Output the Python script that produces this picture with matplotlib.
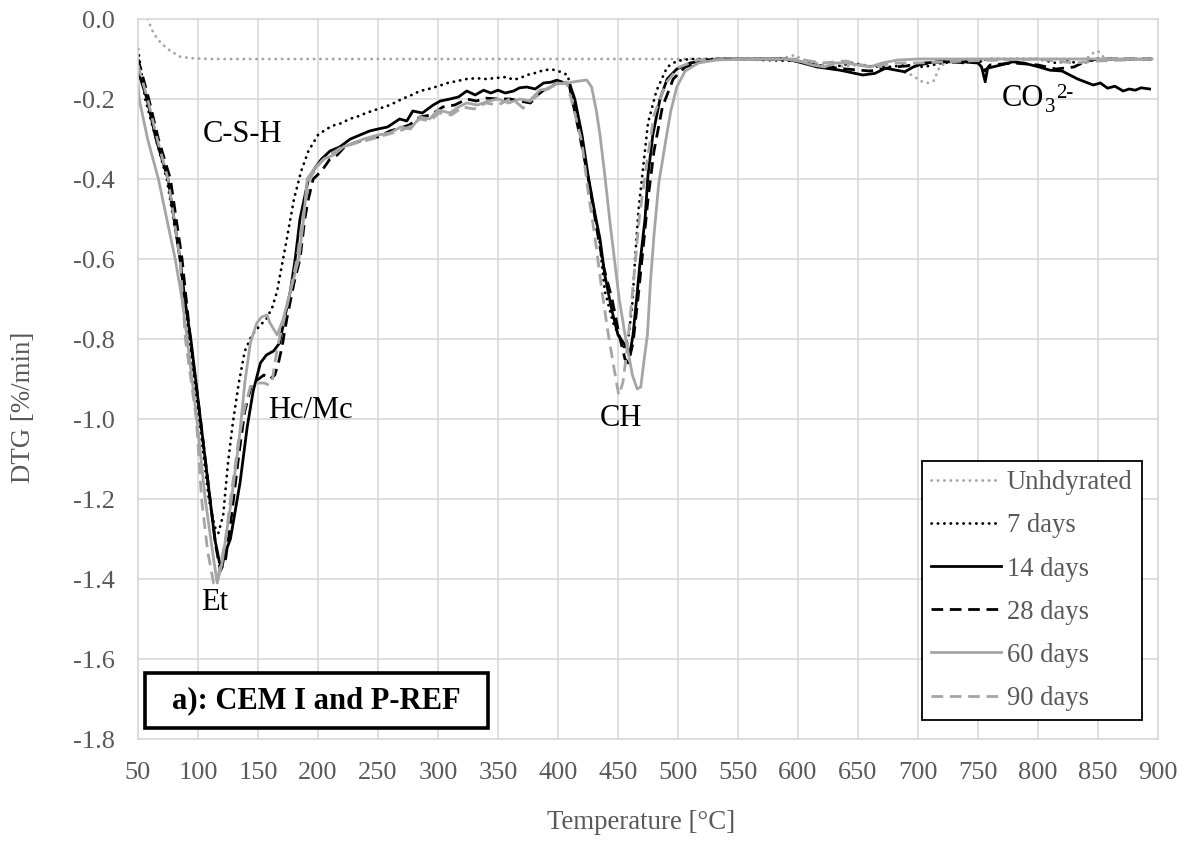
import numpy as np
import matplotlib
matplotlib.use('Agg')
import matplotlib.pyplot as plt
from matplotlib.patches import Rectangle

plt.rcParams['font.family'] = ['Liberation Serif', 'DejaVu Serif']
plt.rcParams['axes.unicode_minus'] = False

# ---- data (temperature in °C, DTG in %/min) ----
t_unhyd = [58, 63, 69, 77, 85, 94, 110, 200, 300, 400, 500, 580, 592, 597, 603, 615, 630, 650, 670,
           685, 695, 702, 708, 713, 718, 725, 740, 800, 840, 846, 850, 856, 870, 895]
dtg_unhyd = [0.0, -0.036, -0.06, -0.08, -0.094, -0.098, -0.1, -0.1, -0.1, -0.1, -0.1, -0.1, -0.095, -0.09,
             -0.1, -0.11, -0.12, -0.115, -0.12, -0.13, -0.14, -0.155, -0.16, -0.155, -0.12, -0.105, -0.1,
             -0.1, -0.1, -0.085, -0.08, -0.1, -0.1, -0.1]

t_7d = [50, 56, 65, 74, 85, 92, 101, 109, 114, 117, 121, 125, 129, 134, 139, 145, 152, 157, 162, 166,
        169, 174, 180, 186, 192, 200, 207, 214, 220, 226, 232, 240, 250, 260, 270, 278, 285, 292, 300,
        308, 316, 324, 332, 340, 350, 357, 363, 369, 374, 381, 388, 395, 402, 408, 412, 420, 427, 434,
        439, 446, 452, 455, 459, 462, 464, 467, 471, 475, 482, 491, 499, 510, 540, 600, 615, 630, 645,
        660, 675, 690, 705, 720, 740, 760, 800, 815, 825, 835, 850, 895]
dtg_7d = [-0.075, -0.2, -0.3, -0.4, -0.6, -0.8, -1.0, -1.2, -1.27, -1.285, -1.24, -1.11, -1.01, -0.91,
          -0.83, -0.79, -0.765, -0.75, -0.72, -0.68, -0.63, -0.55, -0.45, -0.38, -0.33, -0.29, -0.275,
          -0.265, -0.26, -0.25, -0.245, -0.235, -0.225, -0.215, -0.2, -0.19, -0.18, -0.175, -0.168,
          -0.16, -0.155, -0.15, -0.148, -0.15, -0.147, -0.145, -0.152, -0.147, -0.14, -0.135, -0.128,
          -0.126, -0.132, -0.14, -0.19, -0.31, -0.43, -0.54, -0.68, -0.76, -0.8, -0.82, -0.79, -0.71,
          -0.61, -0.48, -0.37, -0.26, -0.18, -0.12, -0.105, -0.1, -0.1, -0.105, -0.115, -0.12, -0.11,
          -0.118, -0.12, -0.115, -0.12, -0.11, -0.105, -0.1, -0.1, -0.11, -0.105, -0.112, -0.1, -0.1]

t_14d = [50, 57.5, 65, 75, 80, 85, 89, 94, 98, 102, 106, 110, 114, 118, 120, 122, 127, 135, 141, 146,
         152, 157, 163, 168, 172, 177, 181, 185, 192, 198, 203, 210, 218, 227, 235, 243, 250, 258, 268,
         274, 279, 287, 296, 302, 310, 317, 324, 331, 338, 344, 350, 356, 363, 368, 374, 381, 388, 394,
         399, 404, 410, 414, 420, 425, 431, 435, 439, 445, 450, 457, 460, 462.5, 465.5, 468, 472.5, 475,
         479, 485, 491, 499, 510, 532, 590, 600, 616, 635, 654, 664, 673, 689, 696, 705, 721, 737, 750,
         753, 756, 758, 769, 779, 788, 801, 810, 820, 833, 846, 852, 858, 864, 871, 876, 881, 886, 893]
dtg_14d = [-0.13, -0.2, -0.3, -0.4, -0.5, -0.6, -0.7, -0.8, -0.9, -1.0, -1.1, -1.2, -1.3, -1.36, -1.37,
           -1.34, -1.3, -1.16, -1.02, -0.93, -0.86, -0.84, -0.83, -0.81, -0.75, -0.68, -0.6, -0.5, -0.4,
           -0.37, -0.35, -0.33, -0.32, -0.3, -0.29, -0.28, -0.275, -0.27, -0.25, -0.255, -0.23, -0.235,
           -0.215, -0.205, -0.2, -0.195, -0.18, -0.19, -0.178, -0.185, -0.178, -0.185, -0.18, -0.172,
           -0.17, -0.175, -0.16, -0.158, -0.153, -0.158, -0.165, -0.2, -0.29, -0.39, -0.49, -0.55, -0.64,
           -0.73, -0.79, -0.82, -0.835, -0.79, -0.7, -0.62, -0.5, -0.39, -0.29, -0.2, -0.15, -0.125,
           -0.11, -0.1, -0.1, -0.107, -0.12, -0.128, -0.14, -0.136, -0.123, -0.132, -0.12, -0.11, -0.107,
           -0.107, -0.11, -0.12, -0.157, -0.123, -0.115, -0.107, -0.11, -0.12, -0.128, -0.13, -0.15,
           -0.165, -0.16, -0.173, -0.168, -0.18, -0.175, -0.178, -0.172, -0.175]

t_28d = [50, 59, 67, 77, 86.7, 93.6, 102, 110, 115, 118.6, 123, 128, 134, 139, 145, 150.5, 155, 160,
         164, 167, 170, 174, 180, 185, 189, 192, 196, 203, 210, 216, 222, 230, 240, 250, 260, 268, 276,
         285, 294, 304, 314, 324, 332, 340, 350, 360, 368, 377, 383, 388, 394, 399, 409, 418, 426,
         432.6, 438, 445, 451, 455.8, 458.6, 462.5, 466.6, 470.7, 475, 480, 487, 496, 506, 523, 590,
         600, 620, 640, 660, 680, 700, 720, 740, 752, 756, 760, 780, 800, 815, 830, 840, 850, 895]
dtg_28d = [-0.1, -0.2, -0.3, -0.4, -0.6, -0.8, -1.0, -1.2, -1.32, -1.38, -1.35, -1.24, -1.09, -0.98,
           -0.91, -0.9, -0.89, -0.9, -0.89, -0.86, -0.82, -0.75, -0.66, -0.6, -0.5, -0.45, -0.4, -0.38,
           -0.35, -0.34, -0.32, -0.31, -0.3, -0.295, -0.28, -0.273, -0.265, -0.245, -0.24, -0.22, -0.215,
           -0.2, -0.205, -0.198, -0.2, -0.2, -0.205, -0.21, -0.19, -0.178, -0.17, -0.16, -0.16, -0.29,
           -0.41, -0.53, -0.62, -0.7, -0.79, -0.85, -0.86, -0.81, -0.7, -0.58, -0.45, -0.33, -0.22, -0.15,
           -0.12, -0.102, -0.1, -0.105, -0.12, -0.125, -0.13, -0.12, -0.115, -0.105, -0.11, -0.105, -0.13,
           -0.115, -0.11, -0.115, -0.125, -0.12, -0.105, -0.1, -0.1]

t_60d = [50, 51, 58, 67, 74, 81, 86.7, 91, 99, 106, 113, 116, 120, 127, 134, 139, 143.6, 149, 153,
         157.5, 160, 166, 171, 177, 184, 188, 191, 198, 205, 213, 221, 230, 238, 250, 260, 269, 277,
         285, 293, 300, 310, 317, 324, 333, 342, 350, 359, 368, 376, 385, 392, 399, 406, 413, 418, 424,
         428, 432, 435, 439, 443, 447, 451, 457, 462, 466, 469, 471, 474.5, 477, 480, 484, 490, 494,
         499, 506, 517, 533, 590, 603, 612, 622, 631, 641, 650, 660, 670, 683, 700, 895]
dtg_60d = [-0.16, -0.2, -0.3, -0.4, -0.5, -0.6, -0.7, -0.8, -1.0, -1.2, -1.35, -1.41, -1.36, -1.22,
           -1.06, -0.91, -0.81, -0.76, -0.745, -0.74, -0.76, -0.79, -0.75, -0.68, -0.6, -0.5, -0.4, -0.37,
           -0.35, -0.34, -0.32, -0.31, -0.3, -0.29, -0.285, -0.27, -0.275, -0.245, -0.25, -0.2275, -0.235,
           -0.22, -0.21, -0.215, -0.205, -0.2, -0.21, -0.2, -0.205, -0.1775, -0.175, -0.16, -0.162, -0.157,
           -0.155, -0.1525, -0.17, -0.23, -0.29, -0.39, -0.5, -0.6, -0.7, -0.81, -0.89, -0.925, -0.92,
           -0.87, -0.79, -0.66, -0.54, -0.41, -0.3, -0.23, -0.17, -0.13, -0.11, -0.102, -0.1, -0.107,
           -0.115, -0.12, -0.11, -0.11, -0.115, -0.12, -0.11, -0.1025, -0.1, -0.1]

t_90d = [50, 58, 66, 75, 85, 89.5, 98.6, 103, 108, 113, 117, 123, 128, 134, 139, 143.6, 149, 155, 159,
         161.6, 164, 167, 171, 177, 182.5, 187, 193, 199, 205, 212, 220, 232, 245, 256, 268, 276, 285,
         293, 301, 311, 321, 330, 340, 350, 360, 366, 371, 375, 379, 386, 393, 400, 407, 411, 420, 425,
         431, 436.6, 442, 446.5, 450.6, 454, 457, 460, 464, 468, 474, 480, 490, 501, 517, 590, 600,
         620, 640, 660, 680, 700, 740, 800, 830, 850, 895]
dtg_90d = [-0.115, -0.2, -0.3, -0.4, -0.6, -0.8, -1.0, -1.2, -1.33, -1.41, -1.39, -1.3, -1.18, -1.05,
           -0.97, -0.92, -0.91, -0.91, -0.915, -0.91, -0.86, -0.81, -0.76, -0.68, -0.6, -0.5, -0.4, -0.37,
           -0.35, -0.335, -0.32, -0.31, -0.3, -0.29, -0.28, -0.27, -0.25, -0.255, -0.235, -0.24, -0.22,
           -0.225, -0.21, -0.215, -0.2, -0.21, -0.223, -0.21, -0.2, -0.185, -0.17, -0.165, -0.157, -0.2,
           -0.31, -0.43, -0.55, -0.68, -0.79, -0.87, -0.94, -0.91, -0.84, -0.75, -0.62, -0.49, -0.36,
           -0.24, -0.16, -0.12, -0.102, -0.1, -0.1, -0.11, -0.105, -0.12, -0.11, -0.11, -0.105, -0.1,
           -0.11, -0.105, -0.1]

series_labels = ['Unhdyrated', '7 days', '14 days', '28 days', '60 days', '90 days']
x_ticks = np.arange(50, 901, 50)
y_ticks = np.round(np.arange(-1.8, 0.01, 0.2), 1)

black = '#000000'
grey = '#a5a5a5'
txt = '#595959'

fig = plt.figure(figsize=(11.9, 8.44), dpi=100)
ax = fig.add_axes([138 / 1190, 1 - 739 / 844, 1020 / 1190, 720 / 844])

lw = 2.0
dot = (0, (0.1, 2.2))
dash = (0, (4.2, 2.4))
ax.plot(t_unhyd, dtg_unhyd, color=grey, lw=lw, linestyle=dot, dash_capstyle='round', label=series_labels[0])
ax.plot(t_7d, dtg_7d, color=black, lw=lw, linestyle=dot, dash_capstyle='round', label=series_labels[1])
ax.plot(t_14d, dtg_14d, color=black, lw=lw, label=series_labels[2])
ax.plot(t_28d, dtg_28d, color=black, lw=lw, linestyle=dash, label=series_labels[3])
ax.plot(t_60d, dtg_60d, color=grey, lw=lw, label=series_labels[4])
ax.plot(t_90d, dtg_90d, color=grey, lw=lw, linestyle=dash, label=series_labels[5])

ax.set_xlim(50, 900)
ax.set_ylim(-1.8, 0.0)
ax.set_xticks(x_ticks)
ax.set_yticks(y_ticks)
ax.set_yticklabels(['%.1f' % abs(v) if v == 0 else '%.1f' % v for v in y_ticks])
ax.tick_params(length=0, labelsize=19, labelcolor=txt, pad=16.5)
ax.grid(True, color='#d9d9d9', lw=1.2)
ax.set_axisbelow(True)
for s in ax.spines.values():
    s.set_color('#d9d9d9')
    s.set_linewidth(1.2)

ax.set_xlabel('Temperature [°C]', fontsize=19.4, color=txt, va='center')
ax.xaxis.set_label_coords(0.493, -0.116)
ax.set_ylabel('DTG [%/min]', fontsize=19.4, color=txt, va='center')
ax.yaxis.set_label_coords(-0.1127, 0.461)

# peak labels
fs = 22
ax.text(137.5, -0.29, 'C-S-H', fontsize=fs, ha='center', va='center')
ax.text(194, -0.98, 'Hc/Mc', fontsize=fs, ha='center', va='center')
ax.text(114, -1.46, 'Et', fontsize=fs, ha='center', va='center')
ax.text(452.5, -1.0, 'CH', fontsize=fs, ha='center', va='center')
ax.text(770, -0.2, 'CO', fontsize=fs, ha='left', va='center')
ax.text(806, -0.222, '3', fontsize=15, ha='left', va='center')
ax.text(815, -0.186, '2-', fontsize=15, ha='left', va='center')

# panel tag
ax.add_patch(Rectangle((7 / 1020, 11 / 720), 343 / 1020, 55 / 720, transform=ax.transAxes,
                       fill=True, facecolor='white', edgecolor='black', lw=2.6, zorder=5))
ax.text(0.1745, 0.053, 'a): CEM I and P-REF', transform=ax.transAxes, fontsize=22,
        fontweight='bold', ha='center', va='center', zorder=6)

leg = ax.legend(loc='lower right', bbox_to_anchor=(0.984, 0.026), borderaxespad=0,
                fontsize=19.2, frameon=True, fancybox=False, framealpha=1, edgecolor='black',
                handlelength=2.6, handletextpad=0.22, labelspacing=0.68, borderpad=0.35)
leg.get_frame().set_linewidth(1.3)
for t in leg.get_texts():
    t.set_color(txt)

fig.savefig('out.png', dpi=100)
